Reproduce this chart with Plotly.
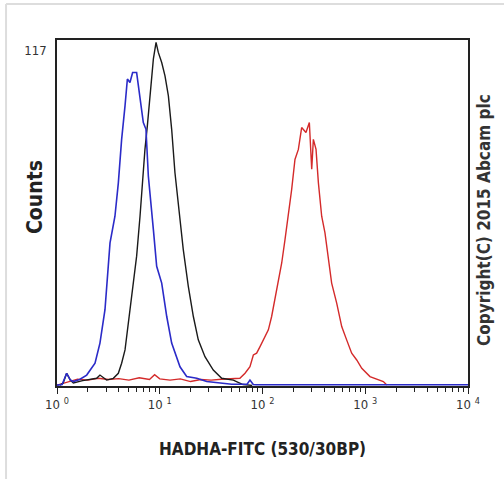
import plotly.graph_objects as go
import numpy as np

# ---- data (x as log10 of fluorescence intensity, y as counts) ----
blue_log = [0.0, 0.05, 0.094, 0.13, 0.159, 0.22, 0.289, 0.37, 0.418, 0.467, 0.516, 0.564, 0.597,
            0.629, 0.662, 0.685, 0.71, 0.736, 0.775, 0.808, 0.84, 0.866, 0.889, 0.938, 0.97,
            1.019, 1.068, 1.116, 1.197, 1.262, 1.36, 1.457, 1.586, 1.7, 1.85, 1.878, 1.91,
            1.94, 2.2, 2.6, 3.0, 3.4, 3.8, 4.0]
blue_counts = [0.3, 0.5, 4.3, 2.0, 1.5, 2.2, 3.7, 7.7, 14.5, 25.8, 48.4, 57.4, 68.7,
               83.4, 94.7, 103.8, 102.6, 106.0, 106.0, 97.9, 89.1, 86.8, 71.0, 52.9, 40.5,
               34.8, 23.5, 14.5, 6.5, 3.2, 2.6, 1.5, 0.9, 0.6, 0.6, 2.0, 0.5,
               0.4, 0.4, 0.4, 0.4, 0.4, 0.4, 0.4]

black_log = [0.029, 0.06, 0.094, 0.13, 0.159, 0.25, 0.386, 0.418, 0.483, 0.548, 0.597, 0.629,
             0.662, 0.694, 0.743, 0.775, 0.808, 0.834, 0.856, 0.879, 0.905, 0.938, 0.964,
             0.986, 1.019, 1.051, 1.084, 1.116, 1.148, 1.181, 1.229, 1.278, 1.327, 1.375,
             1.44, 1.521, 1.603, 1.716, 1.81, 1.9]
black_counts = [0.3, 1.0, 4.3, 2.0, 1.0, 1.8, 2.6, 3.7, 2.0, 2.6, 4.3, 7.7,
                12.2, 21.3, 34.8, 43.9, 57.4, 71.0, 80.0, 87.9, 98.1, 110.6, 116.2,
                112.8, 109.4, 104.9, 98.1, 86.8, 72.1, 60.8, 46.1, 33.7, 23.5, 15.6,
                9.9, 5.4, 2.6, 2.0, 0.5, 0.2]

red_log = [0.0, 0.1, 0.2, 0.3, 0.4, 0.5, 0.6, 0.7, 0.8, 0.9, 0.95, 1.0, 1.1, 1.2, 1.3, 1.4,
           1.5, 1.6, 1.7, 1.78, 1.83, 1.878, 1.911, 1.943, 1.976, 2.008, 2.057, 2.089, 2.122,
           2.154, 2.187, 2.219, 2.251, 2.284, 2.316, 2.349, 2.381, 2.423, 2.456, 2.479,
           2.495, 2.521, 2.544, 2.576, 2.608, 2.641, 2.673, 2.722, 2.771, 2.819, 2.868,
           2.917, 2.966, 3.046, 3.176, 3.21]
red_counts = [0.3, 1.2, 2.3, 2.0, 2.6, 2.2, 2.5, 2.0, 2.8, 2.2, 3.8, 2.4, 2.0, 2.4, 1.5, 2.2,
              2.0, 2.3, 2.6, 2.6, 4.3, 6.5, 10.5, 11.1, 13.3, 15.6, 19.0, 23.5, 29.2,
              35.9, 41.6, 49.5, 57.4, 66.5, 76.6, 80.0, 87.4, 85.7, 89.1, 73.3,
              83.4, 80.0, 68.7, 57.4, 51.8, 42.7, 34.8, 28.0, 20.1, 15.6, 11.1,
              8.8, 6.0, 3.2, 1.5, 0.3]

major_exponents = [0, 1, 2, 3, 4]
major_labels = ["10 <sup>0</sup>", "10 <sup>1</sup>", "10 <sup>2</sup>", "10 <sup>3</sup>", "10 <sup>4</sup>"]
y_max = 117

minor_vals = [m * 10 ** e for e in range(4) for m in range(2, 10)]

FONT = "Liberation Sans Narrow, Arial Narrow, DejaVu Sans Condensed, Liberation Sans, sans-serif"

fig = go.Figure()
fig.add_trace(go.Scatter(x=10 ** np.array(red_log), y=red_counts, mode="lines",
                         line=dict(color="#d42a2a", width=1.4), showlegend=False))
fig.add_trace(go.Scatter(x=10 ** np.array(black_log), y=black_counts, mode="lines",
                         line=dict(color="#1a1a1a", width=1.4), showlegend=False))
fig.add_trace(go.Scatter(x=10 ** np.array(blue_log), y=blue_counts, mode="lines",
                         line=dict(color="#2b2bc8", width=1.6), showlegend=False))

fig.update_layout(
    width=504, height=479,
    margin=dict(l=57, r=36, t=40, b=93),
    paper_bgcolor="white", plot_bgcolor="white",
    font=dict(family=FONT, color="#222"),
    xaxis=dict(type="log", range=[0, 4], showgrid=False, zeroline=False,
               showline=True, linecolor="#222", linewidth=1.5, mirror=True,
               ticks="outside", ticklen=6, tickwidth=1, tickcolor="#222",
               tickvals=[10 ** e for e in major_exponents], ticktext=major_labels,
               tickfont=dict(size=13, color="#333"),
               minor=dict(tickvals=minor_vals, ticks="outside", ticklen=4,
                          tickwidth=1, tickcolor="#222", showgrid=False)),
    yaxis=dict(range=[0, y_max], showgrid=False, zeroline=False,
               showline=True, linecolor="#222", linewidth=1.5, mirror=True,
               ticks="", tickvals=[y_max], ticktext=[str(y_max)],
               ticklabelshift=10, ticklabelstandoff=6,
               tickfont=dict(size=13, color="#333")),
    annotations=[
        dict(text="<b>HADHA-FITC (530/30BP)</b>", xref="paper", yref="paper",
             x=0.5, y=-0.182, xanchor="center", yanchor="middle", showarrow=False,
             font=dict(size=17, color="#222")),
        dict(text="<b>Counts</b>", xref="paper", yref="paper",
             x=-0.0535, y=0.546, xanchor="center", yanchor="middle", showarrow=False,
             textangle=-90, font=dict(size=21, color="#222")),
        dict(text="<b>Copyright(C) 2015 Abcam plc</b>", xref="paper", yref="paper",
             x=1.039, y=0.48, xanchor="center", yanchor="middle", showarrow=False,
             textangle=-90, font=dict(size=17, color="#333")),
    ],
    shapes=[
        dict(type="line", xref="paper", yref="paper", x0=-0.124, x1=1.09,
             y0=1.104, y1=1.104, line=dict(color="#dddddd", width=2)),
        dict(type="line", xref="paper", yref="paper", x0=-0.124, x1=-0.124,
             y0=-0.27, y1=1.104, line=dict(color="#dddddd", width=2)),
    ],
)

fig.write_html("out.html", config={"displayModeBar": False},
               post_script="document.body.style.margin='0';document.body.style.overflow='hidden';")
